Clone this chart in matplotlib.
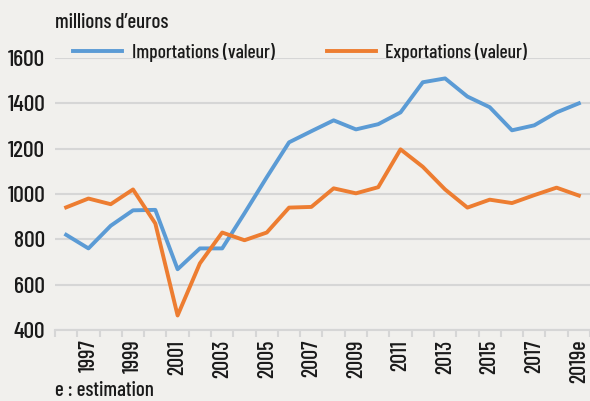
import numpy as np
import matplotlib.pyplot as plt

# years as categories, the last one is an estimate
years = [str(y) for y in range(1996, 2019)] + ['2019e']
importations = [820, 760, 860, 928, 930, 668, 760, 760, 915, 1074, 1228, 1277, 1325, 1285,
                1308, 1360, 1493, 1510, 1430, 1383, 1281, 1303, 1360, 1400]
exportations = [941, 980, 955, 1020, 870, 464, 694, 830, 796, 830, 940, 943, 1025, 1003,
                1030, 1197, 1120, 1020, 940, 975, 960, 995, 1028, 993]

plt.rcParams['font.family'] = ['Barlow Condensed', 'Roboto Condensed', 'DejaVu Sans']
plt.rcParams['font.weight'] = 'medium'
plt.rcParams['text.color'] = '#1a1a1a'

bg = '#f1f0ed'
fig = plt.figure(figsize=(5.9, 4.01), dpi=100, facecolor=bg)
ax = fig.add_axes([55/590, 71/401, 535/590, 272/401], facecolor=bg)

x = np.arange(len(years))
ax.plot(x, importations, color='#5b9bd5', lw=2.8, label='Importations (valeur)')
ax.plot(x, exportations, color='#ed7d31', lw=2.8, label='Exportations (valeur)')

ax.set_xlim(-0.5, len(years) - 0.5)
ax.set_ylim(400, 1600)
ax.set_yticks(range(400, 1601, 200))
ax.yaxis.grid(True, color='#d6d6d6', lw=1.5)
ax.set_axisbelow(True)
for s in ['top', 'right', 'left']:
    ax.spines[s].set_visible(False)
ax.spines['bottom'].set_color('#d6d6d6')
ax.spines['bottom'].set_linewidth(1.5)

# tick marks at category boundaries, labels every other year
ax.set_xticks(np.arange(-0.5, len(years), 1))
ax.set_xticklabels([])
ax.tick_params(axis='x', which='major', length=5, width=1.5, color='#d6d6d6')
ax.set_xticks(x[1::2], minor=True)
ax.set_xticklabels(years[1::2], minor=True, rotation=90, fontsize=16)
ax.tick_params(axis='x', which='minor', length=0, pad=7, labelcolor='#1a1a1a')
ax.tick_params(axis='y', length=0, labelsize=17, pad=7, labelcolor='#1a1a1a')

ax.legend(loc='lower left', bbox_to_anchor=(0.034, 0.985), ncol=2, frameon=False,
          fontsize=14, handlelength=2.5, handletextpad=0.5, columnspacing=2.7,
          borderaxespad=0, borderpad=0)

fig.text(55/590, 1 - 23/401, "millions d\u2019euros", fontsize=15, va='center')
fig.text(55/590, 1 - 390/401, "e : estimation", fontsize=15, va='center')

fig.savefig('out.png', dpi=100, facecolor=bg)
